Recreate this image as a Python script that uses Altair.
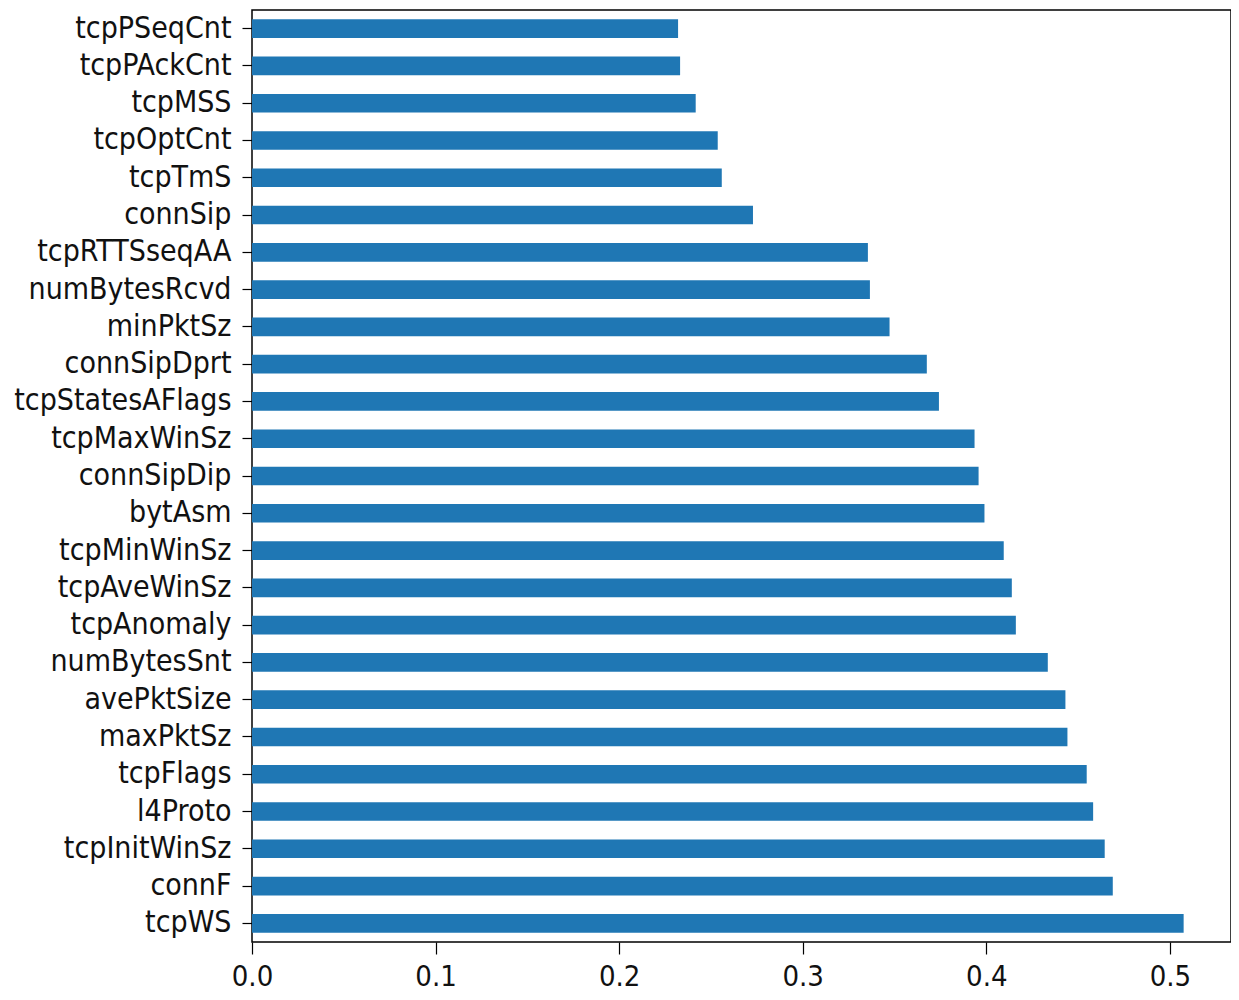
import altair as alt
import pandas as pd

features = ["tcpPSeqCnt", "tcpPAckCnt", "tcpMSS", "tcpOptCnt", "tcpTmS", "connSip",
            "tcpRTTSseqAA", "numBytesRcvd", "minPktSz", "connSipDprt", "tcpStatesAFlags",
            "tcpMaxWinSz", "connSipDip", "bytAsm", "tcpMinWinSz", "tcpAveWinSz",
            "tcpAnomaly", "numBytesSnt", "avePktSize", "maxPktSz", "tcpFlags",
            "l4Proto", "tcpInitWinSz", "connF", "tcpWS"]
importance = [0.2321, 0.2332, 0.2417, 0.2537, 0.2559, 0.2729,
              0.3355, 0.3366, 0.3473, 0.3676, 0.3742,
              0.3936, 0.3958, 0.3990, 0.4095, 0.4139,
              0.4161, 0.4335, 0.4431, 0.4442, 0.4547,
              0.4582, 0.4645, 0.4689, 0.5075]
x_ticks = [0.0, 0.1, 0.2, 0.3, 0.4, 0.5]

df = pd.DataFrame({"feature": features, "importance": importance})

FONT = "DejaVu Sans Condensed"

chart = alt.Chart(df).mark_bar(color="#1f77b4").encode(
    x=alt.X("importance:Q",
            scale=alt.Scale(domain=[0, 0.5333], nice=False, zero=True),
            axis=alt.Axis(values=x_ticks, format=".1f", title=None, grid=False,
                          domain=False, tickSize=12, tickWidth=1.2, tickColor="black",
                          labelPadding=8, labelFontSize=29, labelColor="#111111",
                          labelFont=FONT, labelFlush=False)),
    y=alt.Y("feature:N", sort=features,
            scale=alt.Scale(paddingInner=0.5, paddingOuter=0.25),
            axis=alt.Axis(title=None, grid=False, domain=False, tickSize=10,
                          tickWidth=1.2, tickColor="black", labelPadding=11,
                          labelFontSize=30, labelColor="#111111",
                          labelFont=FONT, labelLimit=400)),
).properties(
    width=979,
    height=932,
    autosize=alt.AutoSizeParams(type="none"),
    padding={"left": 244, "top": 2, "right": 0, "bottom": 50},
).configure_view(
    stroke="black", strokeWidth=1.5
)

chart.save("out.html", embed_options={"renderer": "svg", "actions": False})
